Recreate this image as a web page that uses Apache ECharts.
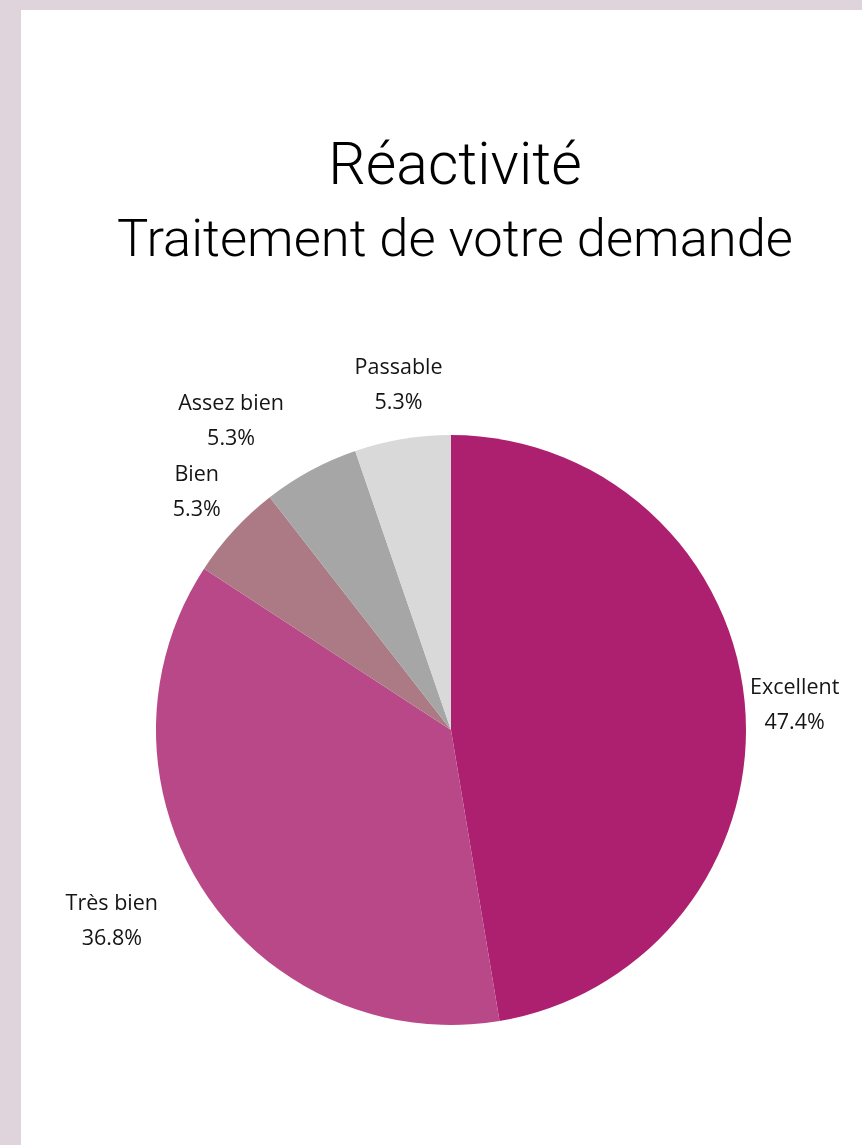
<!DOCTYPE html>
<html>
<head>
<meta charset="utf-8">
<script src="https://cdn.jsdelivr.net/npm/echarts@6/dist/echarts.min.js"></script>
<style>
  html, body { margin: 0; padding: 0; width: 862px; height: 1145px; overflow: hidden; background: #dfd3dc; }
  .panel { position: absolute; left: 21px; top: 10px; right: 0; bottom: 0; background: #fff; }
  #chart { position: absolute; left: 0; top: 0; width: 910px; height: 1145px; }
</style>
</head>
<body>
<div class="panel"></div>
<div id="chart"></div>
<script>
// réponses (nombre de répondants)
const categories = ['Excellent', 'Très bien', 'Bien', 'Assez bien', 'Passable']
const values = [9, 7, 1, 1, 1]
const colors = ['#ad1f6f', '#b84887', '#ab7a84', '#a6a6a6', '#d9d9d9']
// longueur des lignes de libellé (invisibles) pour placer les libellés
const lineLen = [5, 55, 56, 56, 54]
const lineLen2 = [0, 0, -28, 0, -49]

const chart = echarts.init(document.getElementById('chart'))

chart.setOption({
  title: [
    {
      text: 'Réactivité',
      left: 'center',
      top: 135,
      textStyle: { fontFamily: 'Roboto', fontWeight: 300, fontSize: 59, color: '#000' }
    },
    {
      text: 'Traitement de votre demande',
      left: 'center',
      top: 211,
      textStyle: { fontFamily: 'Roboto', fontWeight: 300, fontSize: 52.5, color: '#000' }
    }
  ],
  series: [{
    type: 'pie',
    center: [451, 730],
    radius: 295,
    startAngle: 90,
    clockwise: true,
    avoidLabelOverlap: false,
    itemStyle: { borderWidth: 0 },
    label: {
      show: true,
      position: 'outside',
      distanceToLabelLine: 0,
      formatter: p => '{n|' + p.name + '}\n{n|' + p.percent.toFixed(1) + '%}',
      rich: {
        n: { fontFamily: 'Open Sans', fontSize: 21.5, color: '#151515', lineHeight: 35, align: 'center' }
      }
    },
    labelLine: { show: false },
    emphasis: { disabled: true },
    data: categories.map((name, i) => ({
      name: name,
      value: values[i],
      itemStyle: { color: colors[i] },
      labelLine: { length: lineLen[i], length2: lineLen2[i] }
    }))
  }]
})
</script>
</body>
</html>
